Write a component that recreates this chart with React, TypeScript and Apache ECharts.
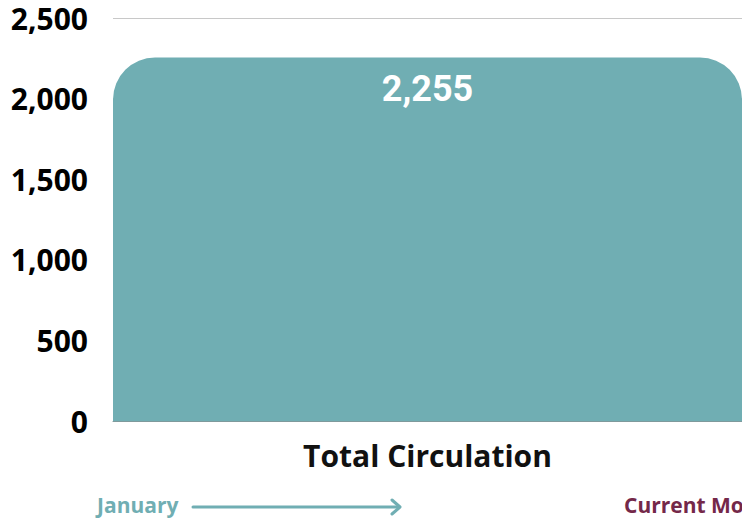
import React, { useEffect, useRef } from "react";
import * as echarts from "echarts";

const categories = ["Total Circulation"];
const circulation = [2255];
const yTicks = [0, 500, 1000, 1500, 2000, 2500];
const startLabel = "January";
const endLabel = "Current Month";

export default function App() {
  const ref = useRef<HTMLDivElement>(null);
  useEffect(() => {
    if (!ref.current) return;
    const chart = echarts.init(ref.current, null, { renderer: "svg" });
    const teal = "#70aeb3";
    chart.setOption({
      animation: false,
      grid: { left: 113, right: 0, top: 18, bottom: 97, containLabel: false },
      xAxis: {
        type: "category",
        data: categories,
        axisTick: { show: false },
        axisLine: { show: true, lineStyle: { color: "#7f9a9c", width: 1 } },
        axisLabel: {
          fontFamily: "Open Sans",
          fontWeight: "bold",
          fontSize: 30,
          color: "#111",
          margin: 19,
        },
      },
      yAxis: {
        type: "value",
        min: yTicks[0],
        max: yTicks[yTicks.length - 1],
        interval: 500,
        axisLine: { show: false },
        axisTick: { show: false },
        splitLine: { lineStyle: { color: "#c8c8c8", width: 1 } },
        axisLabel: {
          fontFamily: "Open Sans",
          fontWeight: "bold",
          fontSize: 30,
          lineHeight: 30,
          color: "#000",
          margin: 25,
          formatter: (v: number) => v.toLocaleString("en-US"),
        },
      },
      series: [
        {
          type: "bar",
          data: circulation,
          barWidth: "100%",
          itemStyle: { color: teal, borderRadius: [42, 42, 0, 0] },
          label: {
            show: true,
            position: "insideTop",
            distance: 14,
            color: "#fff",
            fontFamily: "Roboto",
            fontWeight: "bold",
            fontSize: 36,
            formatter: (p: any) => Number(p.value).toLocaleString("en-US"),
          },
        },
      ],
      graphic: [
        {
          type: "text",
          left: 97,
          top: 494,
          style: {
            text: startLabel,
            fontFamily: "Open Sans",
            fontWeight: "bold",
            fontSize: 21,
            fill: teal,
          },
        },
        {
          type: "line",
          shape: { x1: 193, y1: 507, x2: 399, y2: 507 },
          style: { stroke: teal, lineWidth: 3, lineCap: "round" },
        },
        {
          type: "polyline",
          shape: { points: [[392, 500], [400, 507], [392, 514]] },
          style: { stroke: teal, lineWidth: 3, fill: "none", lineCap: "round", lineJoin: "round" },
        },
        {
          type: "text",
          left: 624,
          top: 494,
          style: {
            text: endLabel,
            fontFamily: "Open Sans",
            fontWeight: "bold",
            fontSize: 21,
            fill: "#742849",
          },
        },
      ],
    });
    return () => chart.dispose();
  }, []);
  return <div ref={ref} style={{ width: 742, height: 518, position: "absolute", left: 0, top: 0 }} />;
}
